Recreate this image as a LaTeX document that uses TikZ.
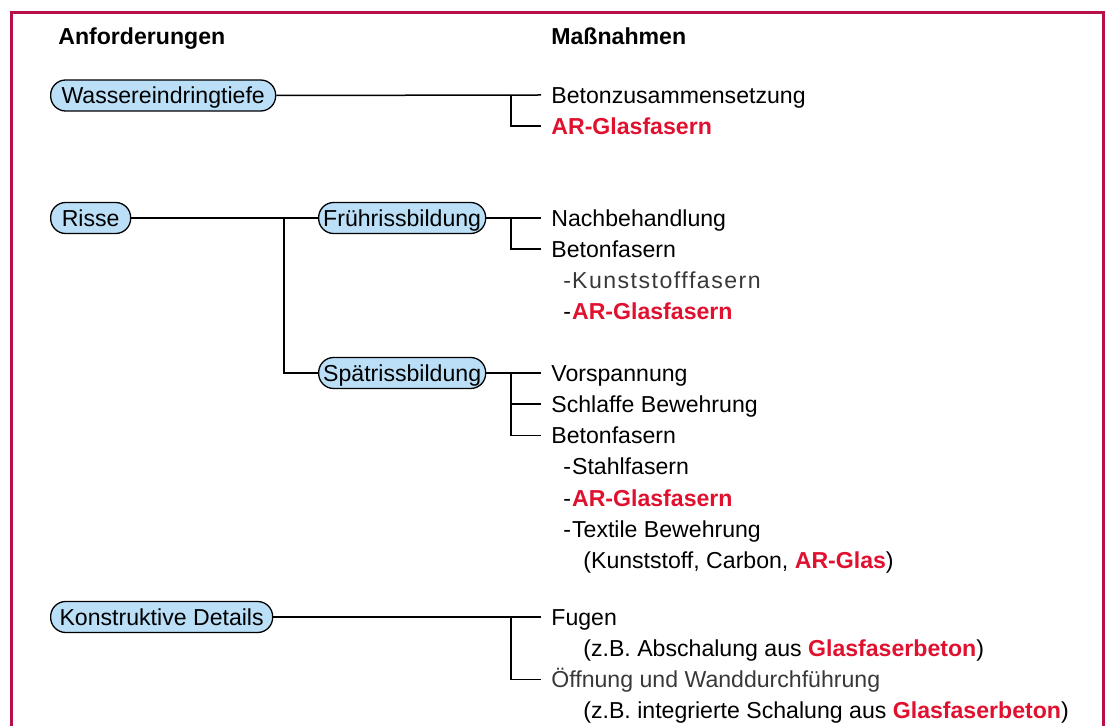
\documentclass[tikz,border=0pt]{standalone}
\usepackage{fontspec}
\setmainfont{Liberation Sans}
\usetikzlibrary{positioning}
\definecolor{framered}{HTML}{B80F4A}
\definecolor{glasred}{HTML}{E0102F}
\definecolor{boxblue}{HTML}{BADFF7}
\newcommand{\glas}[1]{\textcolor{glasred}{\textbf{#1}}}

\begin{document}
\begin{tikzpicture}[x=0.5pt, y=-0.5pt, node distance=0pt,
    font=\fontsize{11.55}{13}\selectfont,
    req/.style={rectangle, draw, fill=boxblue, rounded corners=7.5pt, line width=0.65pt, minimum height=15.5pt, text height=8.3pt, text depth=0pt, inner xsep=0pt, anchor=west},
    item/.style={anchor=west, inner xsep=5pt, inner ysep=0pt, text height=8.3pt, text depth=0pt, minimum height=15.2pt},
    sub/.style={item, anchor=north west},
    thin/.style={text=black!78},
    head/.style={anchor=west, inner sep=0pt, text height=8.3pt, text depth=0pt, font=\fontsize{11.55}{13}\selectfont\bfseries},
    link/.style={line width=0.75pt},
    frame/.style={line width=1.5pt, draw=framered}]
    \useasboundingbox (0,0) rectangle (1106,726);
    \draw [frame] (11,726) -- (11,13) -- (1103,13) -- (1103,726);
    % headings
    \node [head] (anf) at (58,36) {Anforderungen};
    \node [head] (mass) at (551,36) {Maßnahmen};
    % Wassereindringtiefe
    \node [req, minimum width=112.5pt] (wasser) at (50,95.5) {Wassereindringtiefe};
    \node [item] (zus) at (541,95) {Betonzusammensetzung};
    \node [below=of zus.south west, sub] (ar1) {\glas{AR-Glasfasern}};
    \coordinate [left=15pt of zus.west] (fw);
    \draw [link] (wasser.east) -- (zus.west);
    \draw [link] (fw) |- (ar1.west);
    % Risse
    \node [req, minimum width=40pt] (risse) at (50,218) {Risse};
    \node [req, minimum width=83.5pt] (frueh) at (318,218) {Frührissbildung};
    \node [req, minimum width=83.5pt] (spaet) at (318,373) {Spätrissbildung};
    \coordinate [left=17pt of frueh.west] (fr);
    \draw [link] (risse.east) -- (frueh.west);
    \draw [link] (fr) |- (spaet.west);
    % Fruehrissbildung
    \node [item] (nachb) at (541,218) {Nachbehandlung};
    \node [below=of nachb.south west, sub] (bf1) {Betonfasern};
    \node [below=of bf1.south west, sub, xshift=6pt, thin] (kunst) {-\kern0.5pt{\addfontfeature{LetterSpace=6.5}Kunststofffasern}};
    \node [below=of kunst.south west, sub] (ar2) {-\kern0.5pt\glas{AR-Glasfasern}};
    \coordinate [left=15pt of nachb.west] (ff);
    \draw [link] (frueh.east) -- (nachb.west);
    \draw [link] (ff) |- (bf1.west);
    % Spaetrissbildung
    \node [item] (vorsp) at (541,373) {Vorspannung};
    \node [below=of vorsp.south west, sub] (schlaff) {Schlaffe Bewehrung};
    \node [below=of schlaff.south west, sub] (bf2) {Betonfasern};
    \node [below=of bf2.south west, sub, xshift=6pt] (stahl) {-\kern0.5pt Stahlfasern};
    \node [below=of stahl.south west, sub] (ar3) {-\kern0.5pt\glas{AR-Glasfasern}};
    \node [below=of ar3.south west, sub] (textil) {-\kern0.5pt Textile Bewehrung};
    \node [below=of textil.south west, sub, xshift=10pt] (mat) {(Kunststoff, Carbon, \glas{AR-Glas})};
    \coordinate [left=15pt of vorsp.west] (fs);
    \draw [link] (spaet.east) -- (vorsp.west);
    \draw [link] (fs) |- (schlaff.west);
    \draw [link] (fs) |- (bf2.west);
    % Konstruktive Details
    \node [req, minimum width=111pt] (konstr) at (50,617) {Konstruktive Details};
    \node [item] (fugen) at (541,617) {Fugen};
    \node [below=of fugen.south west, sub, xshift=16pt] (absch) {(z.B. Abschalung aus \glas{Glasfaserbeton})};
    \node [below=of absch.south west, sub, xshift=-16pt, thin] (oeffn) {Öffnung und Wanddurchführung};
    \node [below=of oeffn.south west, sub, xshift=16pt] (integ) {(z.B. integrierte Schalung aus \glas{Glasfaserbeton})};
    \coordinate [left=15pt of fugen.west] (fk);
    \draw [link] (konstr.east) -- (fugen.west);
    \draw [link] (fk) |- (oeffn.west);
\end{tikzpicture}
\end{document}
